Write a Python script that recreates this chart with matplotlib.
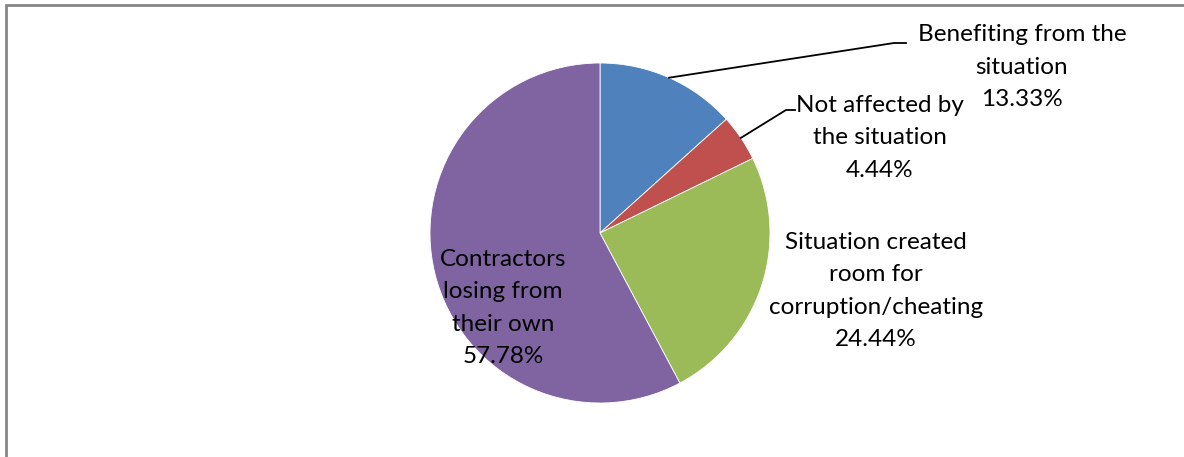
import numpy as np
import matplotlib.pyplot as plt
from matplotlib.patches import Rectangle

# slice data, clockwise from 12 o'clock
labels = ["Benefiting from the\nsituation",
          "Not affected by\nthe situation",
          "Situation created\nroom for\ncorruption/cheating",
          "Contractors\nlosing from\ntheir own"]
shares = [13.33, 4.44, 24.44, 57.78]
colors = ["#4F81BD", "#C0504D", "#9BBB59", "#8064A2"]

W, H = 1184, 457
plt.rcParams['font.family'] = ['Lato', 'DejaVu Sans']

fig = plt.figure(figsize=(W / 100, H / 100), dpi=100)
ax = fig.add_axes([0, 0, 1, 1])

cx, cy, r = 600, H - 233, 170
wedges, _ = ax.pie(shares, colors=colors, startangle=90, counterclock=False,
                   center=(cx, cy), radius=r, frame=True,
                   wedgeprops=dict(edgecolor='white', linewidth=0.6))
ax.set_xlim(0, W)
ax.set_ylim(0, H)
ax.axis('off')

# label text: name + percentage
texts = [f"{lab}\n{v:.2f}%" for lab, v in zip(labels, shares)]
fs = 17.5
ls = 1.68
# label anchor positions (pixel coords, from top)
pos = [(1022, 67), (880, 138), (876, 291), (503, 308)]
for t, (x, y) in zip(texts, pos):
    ax.text(x, H - y, t, ha='center', va='center', fontsize=fs,
            linespacing=ls, color='black')

# leader lines for the two small top slices
mids = []
start = 90.0
for v in shares:
    mids.append(np.deg2rad(start - v * 3.6 / 2))
    start -= v * 3.6
p0 = (cx + r * np.cos(mids[0]), cy + r * np.sin(mids[0]))
ax.plot([p0[0], 894, 906], [p0[1], H - 43, H - 43], color='black', lw=1.3)
p1 = (cx + r * np.cos(mids[1]), cy + r * np.sin(mids[1]))
ax.plot([p1[0], 786, 795], [p1[1], H - 110, H - 110], color='black', lw=1.3)

# chart frame (only top and left edges visible)
fig.patches.append(Rectangle((5.5 / W, -0.1), 1.2, (H - 5.5) / H + 0.1,
                             transform=fig.transFigure, fill=False,
                             edgecolor='#868686', linewidth=2))

fig.savefig('out.png', dpi=100)
